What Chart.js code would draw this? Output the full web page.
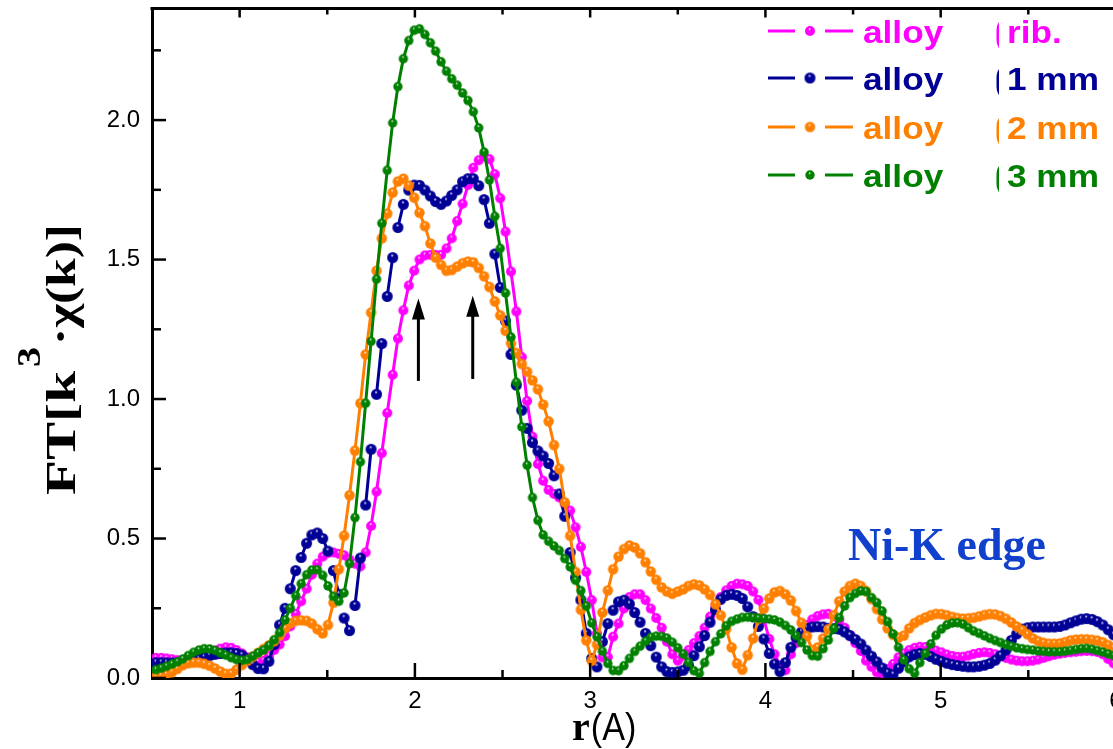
<!DOCTYPE html>
<html>
<head>
<meta charset="utf-8">
<title>Ni-K edge FT</title>
<script src="https://cdn.jsdelivr.net/npm/chart.js@4.4.1/dist/chart.umd.min.js"></script>
<style>
  html, body { margin: 0; padding: 0; background: #fff; overflow: hidden; }
  #wrap { position: relative; width: 1160px; height: 749px; }
</style>
</head>
<body>
<div id="wrap"><canvas id="ftChart" width="1160" height="749"></canvas></div>
<script>
// r grid (A), shared by all four curves
const rValues = [
  0.522, 0.553, 0.583, 0.614, 0.645, 0.675, 0.706, 0.737, 0.768, 0.798,
  0.829, 0.860, 0.890, 0.921, 0.952, 0.982, 1.013, 1.044, 1.075, 1.105,
  1.136, 1.167, 1.197, 1.228, 1.259, 1.289, 1.320, 1.351, 1.382, 1.412,
  1.443, 1.474, 1.504, 1.535, 1.566, 1.596, 1.627, 1.658, 1.689, 1.719,
  1.750, 1.781, 1.811, 1.842, 1.873, 1.903, 1.934, 1.965, 1.996, 2.026,
  2.057, 2.088, 2.118, 2.149, 2.180, 2.210, 2.241, 2.272, 2.303, 2.333,
  2.364, 2.395, 2.425, 2.456, 2.487, 2.517, 2.548, 2.579, 2.610, 2.640,
  2.671, 2.702, 2.732, 2.763, 2.794, 2.824, 2.855, 2.886, 2.917, 2.947,
  2.978, 3.009, 3.039, 3.070, 3.101, 3.131, 3.162, 3.193, 3.224, 3.254,
  3.285, 3.316, 3.346, 3.377, 3.408, 3.438, 3.469, 3.500, 3.531, 3.561,
  3.592, 3.623, 3.653, 3.684, 3.715, 3.745, 3.776, 3.807, 3.838, 3.868,
  3.899, 3.930, 3.960, 3.991, 4.022, 4.052, 4.083, 4.114, 4.145, 4.175,
  4.206, 4.237, 4.267, 4.298, 4.329, 4.359, 4.390, 4.421, 4.452, 4.482,
  4.513, 4.544, 4.574, 4.605, 4.636, 4.666, 4.697, 4.728, 4.759, 4.789,
  4.820, 4.851, 4.881, 4.912, 4.943, 4.973, 5.004, 5.035, 5.066, 5.096,
  5.127, 5.158, 5.188, 5.219, 5.250, 5.280, 5.311, 5.342, 5.373, 5.403,
  5.434, 5.465, 5.495, 5.526, 5.557, 5.587, 5.618, 5.649, 5.680, 5.710,
  5.741, 5.772, 5.802, 5.833, 5.864, 5.894, 5.925, 5.956, 5.987, 6.017,
  6.048, 6.079
];

const ribValues = [
  0.072, 0.072, 0.07, 0.067, 0.064, 0.062, 0.063, 0.067, 0.074, 0.082,
  0.09, 0.098, 0.105, 0.11, 0.108, 0.1, 0.088, 0.074, 0.062, 0.057,
  0.062, 0.078, 0.1, 0.12, 0.15, 0.185, 0.23, 0.275, 0.32, 0.37,
  0.41, 0.435, 0.448, 0.45, 0.445, 0.44, 0.425, 0.41, 0.4, 0.45,
  0.545, 0.668, 0.806, 0.95, 1.087, 1.217, 1.318, 1.407, 1.46, 1.5,
  1.515, 1.517, 1.517, 1.517, 1.54, 1.576, 1.638, 1.70, 1.767, 1.829,
  1.856, 1.871, 1.86, 1.806, 1.72, 1.6, 1.457, 1.314, 1.15, 0.993,
  0.865, 0.767, 0.707, 0.674, 0.66, 0.647, 0.625, 0.6, 0.54, 0.47,
  0.38, 0.279, 0.16, 0.074, 0.075, 0.148, 0.195, 0.249, 0.29, 0.30,
  0.30, 0.279, 0.249, 0.215, 0.18, 0.13, 0.085, 0.062, 0.08, 0.1,
  0.125, 0.15, 0.18, 0.22, 0.26, 0.29, 0.314, 0.33, 0.338, 0.336,
  0.33, 0.31, 0.28, 0.21, 0.14, 0.085, 0.045, 0.028, 0.085, 0.125,
  0.16, 0.19, 0.21, 0.222, 0.228, 0.23, 0.222, 0.207, 0.18, 0.154,
  0.125, 0.097, 0.062, 0.04, 0.02, 0.018, 0.032, 0.05, 0.074, 0.088,
  0.1, 0.108, 0.112, 0.111, 0.106, 0.098, 0.092, 0.084, 0.079, 0.076,
  0.076, 0.08, 0.086, 0.09, 0.092, 0.09, 0.085, 0.078, 0.072, 0.066,
  0.062, 0.06, 0.06, 0.062, 0.066, 0.072, 0.078, 0.083, 0.087, 0.09,
  0.092, 0.094, 0.096, 0.097, 0.096, 0.093, 0.085, 0.068, 0.052, 0.042,
  0.036, 0.033
];

const mm1Values = [
  0.055, 0.055, 0.054, 0.054, 0.055, 0.056, 0.058, 0.062, 0.068, 0.074,
  0.08, 0.085, 0.088, 0.09, 0.09, 0.088, 0.082, 0.068, 0.048, 0.034,
  0.033, 0.06, 0.12, 0.19, 0.25, 0.32, 0.385, 0.432, 0.483, 0.513,
  0.52, 0.5, 0.455, 0.385, 0.3, 0.215, 0.17, 0.26, 0.43, 0.62,
  0.82, 1.017, 1.199, 1.368, 1.507, 1.615, 1.698, 1.749, 1.767, 1.766,
  1.749, 1.728, 1.708, 1.698, 1.71, 1.73, 1.75, 1.779, 1.79, 1.79,
  1.765, 1.715, 1.63, 1.52, 1.4, 1.28, 1.16, 1.05, 0.96, 0.895,
  0.844, 0.814, 0.796, 0.769, 0.725, 0.66, 0.58, 0.45, 0.36, 0.28,
  0.16, 0.07, 0.04, 0.13, 0.195, 0.243, 0.273, 0.279, 0.265, 0.235,
  0.2, 0.16, 0.116, 0.075, 0.04, 0.023, 0.02, 0.022, 0.028, 0.045,
  0.08, 0.112, 0.152, 0.2, 0.245, 0.282, 0.296, 0.3, 0.296, 0.285,
  0.255, 0.22, 0.185, 0.14, 0.088, 0.05, 0.023, 0.055, 0.11, 0.145,
  0.165, 0.178, 0.183, 0.184, 0.183, 0.178, 0.177, 0.175, 0.165, 0.152,
  0.138, 0.122, 0.1, 0.078, 0.058, 0.036, 0.018, 0.012, 0.035, 0.058,
  0.076, 0.084, 0.088, 0.085, 0.077, 0.067, 0.06, 0.053, 0.048, 0.045,
  0.042, 0.04, 0.04, 0.042, 0.046, 0.052, 0.064, 0.08, 0.1, 0.135,
  0.158, 0.175, 0.18, 0.183, 0.183, 0.183, 0.183, 0.183, 0.185, 0.19,
  0.198, 0.205, 0.211, 0.213, 0.21, 0.202, 0.19, 0.173, 0.155, 0.14,
  0.13, 0.125
];

const mm2Values = [
  0.005, 0.008, 0.013, 0.021, 0.033, 0.046, 0.053, 0.055, 0.055, 0.051,
  0.044, 0.034, 0.023, 0.015, 0.016, 0.03, 0.047, 0.062, 0.076, 0.09,
  0.104, 0.117, 0.132, 0.152, 0.178, 0.196, 0.205, 0.207, 0.205, 0.195,
  0.175, 0.16, 0.19, 0.27, 0.39, 0.51, 0.655, 0.815, 0.985, 1.16,
  1.31, 1.46, 1.576, 1.665, 1.74, 1.78, 1.79, 1.765, 1.722, 1.668,
  1.62, 1.558, 1.507, 1.481, 1.46, 1.463, 1.475, 1.487, 1.493, 1.49,
  1.47, 1.44, 1.402, 1.35, 1.3, 1.245, 1.2, 1.165, 1.126, 1.098,
  1.067, 1.035, 0.98, 0.92, 0.835, 0.75, 0.63, 0.51, 0.38, 0.245,
  0.135, 0.062, 0.12, 0.235, 0.314, 0.39, 0.435, 0.462, 0.475, 0.468,
  0.447, 0.415, 0.382, 0.352, 0.325, 0.31, 0.302, 0.31, 0.318, 0.33,
  0.336, 0.332, 0.318, 0.298, 0.265, 0.225, 0.175, 0.11, 0.052, 0.03,
  0.082, 0.142, 0.212, 0.249, 0.285, 0.307, 0.312, 0.3, 0.278, 0.24,
  0.198, 0.15, 0.1, 0.11, 0.142, 0.175, 0.225, 0.275, 0.31, 0.33,
  0.338, 0.33, 0.312, 0.283, 0.247, 0.21, 0.178, 0.155, 0.145, 0.152,
  0.178, 0.197, 0.208, 0.217, 0.225, 0.23, 0.229, 0.225, 0.219, 0.215,
  0.213, 0.214, 0.216, 0.221, 0.226, 0.229, 0.228, 0.222, 0.212, 0.199,
  0.185, 0.172, 0.157, 0.142, 0.132, 0.126, 0.123, 0.123, 0.124, 0.129,
  0.135, 0.138, 0.139, 0.139, 0.137, 0.134, 0.128, 0.118, 0.108, 0.1,
  0.095, 0.092
];

const mm3Values = [
  0.03, 0.035, 0.042, 0.05, 0.058, 0.068, 0.08, 0.092, 0.1, 0.105,
  0.104, 0.099, 0.09, 0.082, 0.073, 0.066, 0.063, 0.066, 0.078, 0.09,
  0.1, 0.116, 0.137, 0.163, 0.208, 0.25, 0.295, 0.338, 0.37, 0.387,
  0.388, 0.368, 0.33, 0.292, 0.275, 0.305, 0.41, 0.575, 0.775, 0.985,
  1.207, 1.43, 1.63, 1.82, 1.99, 2.12, 2.22, 2.285, 2.322, 2.327,
  2.307, 2.277, 2.247, 2.209, 2.175, 2.148, 2.125, 2.097, 2.07, 2.03,
  1.972, 1.885, 1.785, 1.655, 1.54, 1.38, 1.222, 1.06, 0.9, 0.763,
  0.647, 0.565, 0.513, 0.49, 0.473, 0.457, 0.428, 0.398, 0.35, 0.313,
  0.258, 0.197, 0.148, 0.096, 0.052, 0.027, 0.026, 0.044, 0.07, 0.095,
  0.114, 0.132, 0.146, 0.15, 0.149, 0.143, 0.128, 0.108, 0.086, 0.056,
  0.026, 0.017, 0.055, 0.095, 0.13, 0.158, 0.187, 0.203, 0.211, 0.217,
  0.218, 0.217, 0.214, 0.213, 0.211, 0.208, 0.2, 0.188, 0.172, 0.152,
  0.127, 0.1, 0.08, 0.078, 0.105, 0.136, 0.177, 0.216, 0.258, 0.288,
  0.303, 0.312, 0.31, 0.288, 0.27, 0.24, 0.202, 0.158, 0.11, 0.065,
  0.033, 0.017, 0.055, 0.088, 0.122, 0.153, 0.175, 0.19, 0.197, 0.198,
  0.193, 0.18, 0.168, 0.16, 0.151, 0.142, 0.134, 0.127, 0.12, 0.114,
  0.108, 0.105, 0.102, 0.1, 0.097, 0.095, 0.094, 0.094, 0.094, 0.096,
  0.099, 0.102, 0.105, 0.106, 0.103, 0.098, 0.093, 0.086, 0.08, 0.075,
  0.072, 0.07
];

const seriesNames = ["rib.", "1 mm", "2 mm", "3 mm"];
const seriesColors = ["#ff00ff", "#000096", "#ff8000", "#008000"];
const xMajorTicks = [1, 2, 3, 4, 5, 6];
const xMinorTicks = [1.5, 2.5, 3.5, 4.5, 5.5];
const yMajorTicks = [0, 0.5, 1, 1.5, 2];
const yMinorTicks = [0.25, 0.75, 1.25, 1.75, 2.25];
// the two arrows under the split peak: r position, tail and tip heights
const arrowR = [2.02, 2.33];
const arrowTail = [1.065, 1.072];
const arrowTip = [1.36, 1.37];

function makeBall(color, radius) {
  const size = Math.ceil(radius * 2 + 2);
  const c = document.createElement("canvas");
  c.width = size;
  c.height = size;
  const g = c.getContext("2d");
  const cx = size / 2, cy = size / 2;
  const grad = g.createRadialGradient(cx - radius * 0.1, cy - radius * 0.45, radius * 0.02, cx, cy, radius);
  grad.addColorStop(0, "#ffffff");
  grad.addColorStop(0.28, color);
  grad.addColorStop(1, color);
  g.fillStyle = grad;
  g.beginPath();
  g.arc(cx, cy, radius, 0, Math.PI * 2);
  g.fill();
  return c;
}

const ballSizes = [5, 5.5, 5.2, 4.7];
const balls = seriesColors.map((c, i) => makeBall(c, ballSizes[i]));

function toPoints(values) {
  return rValues.map((r, i) => ({ x: r, y: values[i] }));
}

const decorPlugin = {
  id: "decor",
  afterDatasetsDraw(chart) {
    const { ctx, scales: { x, y } } = chart;
    ctx.save();
    ctx.fillStyle = "#000";
    ctx.strokeStyle = "#000";
    ctx.lineWidth = 3;
    arrowR.forEach((r, i) => {
      const px = x.getPixelForValue(r);
      const tail = y.getPixelForValue(arrowTail[i]);
      const tip = y.getPixelForValue(arrowTip[i]);
      ctx.beginPath();
      ctx.moveTo(px, tail);
      ctx.lineTo(px, tip + 18);
      ctx.stroke();
      ctx.beginPath();
      ctx.moveTo(px, tip);
      ctx.lineTo(px - 6.5, tip + 21);
      ctx.lineTo(px + 6.5, tip + 21);
      ctx.closePath();
      ctx.fill();
    });
    ctx.restore();
  },
  afterDraw(chart) {
    const { ctx, chartArea: a, scales: { x, y } } = chart;
    ctx.save();
    ctx.strokeStyle = "#000";
    ctx.lineWidth = 3;
    ctx.beginPath();
    ctx.moveTo(a.left - 1.5, a.top);
    ctx.lineTo(a.right, a.top);
    ctx.stroke();

    ctx.lineWidth = 2.5;
    const tick = (x1, y1, x2, y2) => {
      ctx.beginPath();
      ctx.moveTo(x1, y1);
      ctx.lineTo(x2, y2);
      ctx.stroke();
    };
    xMajorTicks.forEach(v => {
      const px = x.getPixelForValue(v);
      tick(px, a.bottom, px, a.bottom - 15);
      tick(px, a.top, px, a.top + 9);
    });
    xMinorTicks.forEach(v => {
      const px = x.getPixelForValue(v);
      tick(px, a.bottom, px, a.bottom - 8);
      tick(px, a.top, px, a.top + 6);
    });
    yMajorTicks.forEach(v => {
      const py = y.getPixelForValue(v);
      tick(a.left, py, a.left + 14, py);
    });
    yMinorTicks.forEach(v => {
      const py = y.getPixelForValue(v);
      tick(a.left, py, a.left + 9, py);
    });

    // legend block, top right
    const rowY = [31, 78, 127, 175];
    seriesColors.forEach((c, i) => {
      const cy = rowY[i];
      ctx.strokeStyle = c;
      ctx.lineWidth = 3;
      tick(768, cy, 795, cy);
      tick(825, cy, 853, cy);
      ctx.drawImage(balls[i], 810 - balls[i].width / 2, cy - balls[i].height / 2);
      ctx.fillStyle = c;
      ctx.font = "bold 32px 'Liberation Sans', Arial, sans-serif";
      ctx.textBaseline = "alphabetic";
      ctx.save();
      ctx.translate(863, cy + 12);
      ctx.scale(1.1, 1);
      ctx.fillText("alloy", 0, 0);
      ctx.restore();
      // thin sliver of a hidden glyph in front of the sample name
      ctx.save();
      ctx.beginPath();
      ctx.rect(996.5, cy - 20, 2.5, 40);
      ctx.clip();
      ctx.fillText("(", 994, cy + 12);
      ctx.restore();
      ctx.save();
      ctx.translate(1007, cy + 12);
      ctx.scale(1.1, 1);
      ctx.fillText(seriesNames[i], 0, 0);
      ctx.restore();
    });

    // edge label
    ctx.fillStyle = "#1140cc";
    ctx.font = "bold 46px 'Liberation Serif', 'Times New Roman', serif";
    ctx.fillText("Ni-K edge", 848, 560);

    // x title: r(A)
    ctx.fillStyle = "#000";
    ctx.font = "bold 40px 'Liberation Serif', serif";
    ctx.fillText("r", 572, 740);
    const rw = ctx.measureText("r").width;
    ctx.font = "36px 'Liberation Sans', Arial, sans-serif";
    ctx.save();
    ctx.translate(572 + rw + 1, 740);
    ctx.scale(0.95, 1.1);
    ctx.fillText("(A)", 0, 0);
    ctx.restore();

    // y title: FT[k^3 . chi(k)], rotated, laid out along its 271 px span
    const mainFont = "bold 43px 'Liberation Serif', serif";
    const supFont = "bold 34px 'Liberation Serif', serif";
    const drawFitted = (text, font, start, len, lift) => {
      ctx.font = font;
      const w = ctx.measureText(text).width;
      ctx.save();
      ctx.translate(start, lift);
      ctx.scale(len / w, 1);
      ctx.fillText(text, 0, 0);
      ctx.restore();
    };
    ctx.save();
    ctx.translate(75, 495);
    ctx.rotate(-Math.PI / 2);
    drawFitted("FT[k", mainFont, 0, 124, 0);
    drawFitted("3", supFont, 128, 20, -35);
    drawFitted("\u00b7\u03c7(k)]", mainFont, 150, 121, 0);
    ctx.restore();

    ctx.restore();
  }
};

const datasets = [ribValues, mm1Values, mm2Values, mm3Values].map((values, i) => ({
  label: seriesNames[i],
  data: toPoints(values),
  borderColor: seriesColors[i],
  backgroundColor: seriesColors[i],
  borderWidth: 3,
  pointStyle: balls[i],
  pointRadius: ballSizes[i],
  tension: 0,
  fill: false,
  order: 3 - i
}));

// the 1 mm curve is drawn with every other segment missing
datasets[1].segment = {
  borderColor: ctx => (ctx.p0DataIndex % 2 === 1 ? seriesColors[1] : "rgba(0,0,0,0)")
};

function noPadding(scale) {
  scale.paddingTop = 0;
  scale.paddingBottom = 0;
  scale.paddingLeft = 0;
  scale.paddingRight = 0;
}

new Chart(document.getElementById("ftChart"), {
  type: "line",
  data: { datasets },
  options: {
    responsive: false,
    animation: false,
    devicePixelRatio: 1,
    layout: { padding: { top: 7, right: 9, left: 0, bottom: 0 } },
    plugins: {
      legend: { display: false },
      tooltip: { enabled: false }
    },
    scales: {
      x: {
        type: "linear",
        min: 0.5,
        max: 6.2,
        afterFit: scale => { scale.height = 71; noPadding(scale); },
        grid: { display: false, drawTicks: false },
        border: { display: true, color: "#000", width: 3 },
        ticks: {
          stepSize: 1,
          includeBounds: false,
          autoSkip: false,
          maxRotation: 0,
          padding: 9,
          color: "#000",
          font: { family: "'Liberation Sans', Arial, sans-serif", size: 24 },
          callback: value => String(value)
        }
      },
      y: {
        min: 0,
        max: 2.4,
        afterFit: scale => { scale.width = 152; noPadding(scale); },
        grid: { display: false, drawTicks: false },
        border: { display: true, color: "#000", width: 3 },
        ticks: {
          stepSize: 0.5,
          includeBounds: false,
          padding: 12,
          color: "#000",
          font: { family: "'Liberation Sans', Arial, sans-serif", size: 24 },
          callback: value => value.toFixed(1)
        }
      }
    }
  },
  plugins: [decorPlugin]
});
</script>
</body>
</html>
